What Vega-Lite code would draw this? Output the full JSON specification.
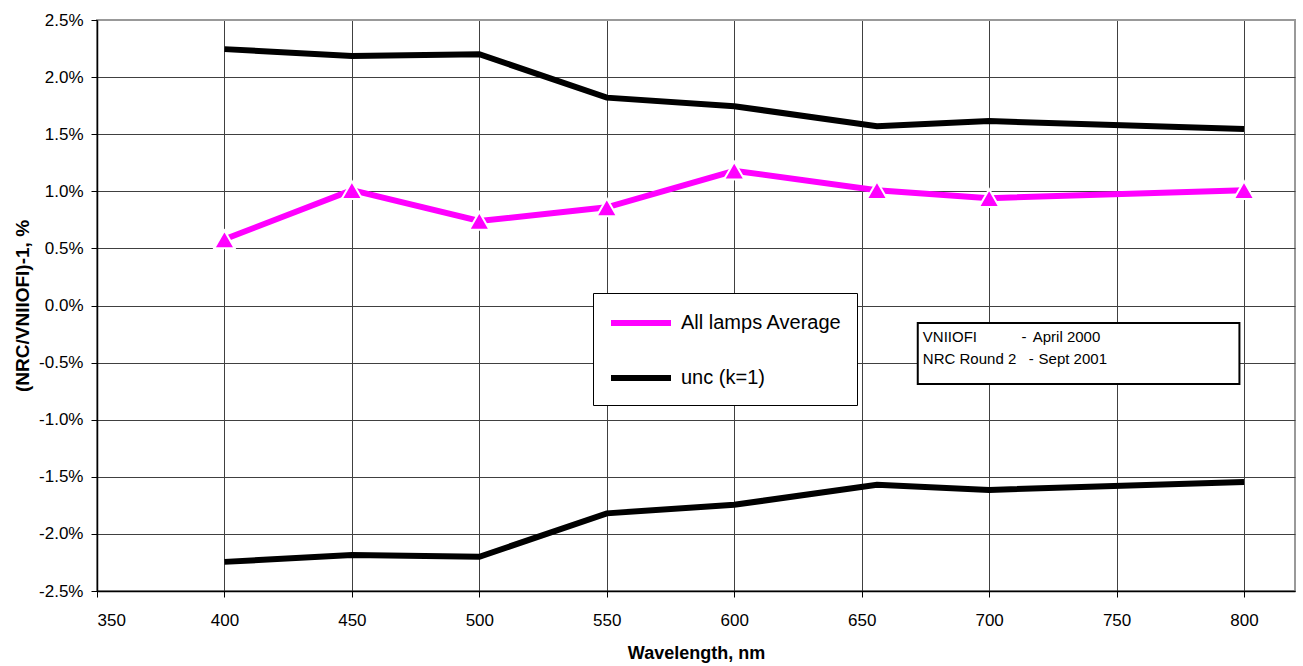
{
  "$schema": "https://vega.github.io/schema/vega-lite/v6.json",
  "width": 1198,
  "height": 571,
  "autosize": {"type": "none"},
  "padding": {"left": 97, "top": 20, "right": 8, "bottom": 75},
  "background": "white",
  "config": {
    "font": "Liberation Sans",
    "view": {"stroke": "#999999", "strokeWidth": 2},
    "axis": {
      "labelFont": "Liberation Sans",
      "titleFont": "Liberation Sans",
      "labelColor": "#000",
      "titleColor": "#000",
      "domainColor": "#000",
      "domainWidth": 1.5,
      "tickColor": "#000",
      "tickSize": 6,
      "gridColor": "#404040",
      "gridWidth": 1,
      "gridOpacity": 1
    }
  },
  "datasets": {
    "series": [
      {"wavelength": 400, "value": 0.58, "series": "All lamps Average", "branch": "avg"},
      {"wavelength": 450, "value": 1.01, "series": "All lamps Average", "branch": "avg"},
      {"wavelength": 500, "value": 0.74, "series": "All lamps Average", "branch": "avg"},
      {"wavelength": 550, "value": 0.86, "series": "All lamps Average", "branch": "avg"},
      {"wavelength": 600, "value": 1.18, "series": "All lamps Average", "branch": "avg"},
      {"wavelength": 656, "value": 1.01, "series": "All lamps Average", "branch": "avg"},
      {"wavelength": 700, "value": 0.94, "series": "All lamps Average", "branch": "avg"},
      {"wavelength": 800, "value": 1.01, "series": "All lamps Average", "branch": "avg"},
      {"wavelength": 400, "value": 2.245, "series": "unc (k=1)", "branch": "upper"},
      {"wavelength": 450, "value": 2.185, "series": "unc (k=1)", "branch": "upper"},
      {"wavelength": 500, "value": 2.2, "series": "unc (k=1)", "branch": "upper"},
      {"wavelength": 550, "value": 1.82, "series": "unc (k=1)", "branch": "upper"},
      {"wavelength": 600, "value": 1.745, "series": "unc (k=1)", "branch": "upper"},
      {"wavelength": 656, "value": 1.57, "series": "unc (k=1)", "branch": "upper"},
      {"wavelength": 700, "value": 1.615, "series": "unc (k=1)", "branch": "upper"},
      {"wavelength": 800, "value": 1.545, "series": "unc (k=1)", "branch": "upper"},
      {"wavelength": 400, "value": -2.245, "series": "unc (k=1)", "branch": "lower"},
      {"wavelength": 450, "value": -2.185, "series": "unc (k=1)", "branch": "lower"},
      {"wavelength": 500, "value": -2.2, "series": "unc (k=1)", "branch": "lower"},
      {"wavelength": 550, "value": -1.82, "series": "unc (k=1)", "branch": "lower"},
      {"wavelength": 600, "value": -1.745, "series": "unc (k=1)", "branch": "lower"},
      {"wavelength": 656, "value": -1.57, "series": "unc (k=1)", "branch": "lower"},
      {"wavelength": 700, "value": -1.615, "series": "unc (k=1)", "branch": "lower"},
      {"wavelength": 800, "value": -1.545, "series": "unc (k=1)", "branch": "lower"}
    ],
    "box": [
      {"x1": 672, "x2": 798.2, "y1": -0.153, "y2": -0.687}
    ],
    "notes": [
      {"tx": 674, "ty": -0.32, "label": "VNIIOFI"},
      {"tx": 712.7, "ty": -0.32, "label": "-"},
      {"tx": 717.1, "ty": -0.32, "label": "April 2000"},
      {"tx": 674, "ty": -0.512, "label": "NRC Round 2"},
      {"tx": 715.5, "ty": -0.512, "label": "-"},
      {"tx": 719.4, "ty": -0.512, "label": "Sept 2001"}
    ]
  },
  "encoding": {
    "x": {
      "field": "wavelength",
      "type": "quantitative",
      "scale": {"domain": [350, 820], "nice": false, "zero": false},
      "axis": {
        "title": "Wavelength, nm",
        "values": [350, 400, 450, 500, 550, 600, 650, 700, 750, 800],
        "labelFontSize": 17,
        "labelPadding": 15,
        "titleFontSize": 18,
        "titleFontWeight": "bold",
        "titlePadding": 16
      }
    },
    "y": {
      "field": "value",
      "type": "quantitative",
      "scale": {"domain": [-2.5, 2.5], "nice": false, "zero": false},
      "axis": {
        "title": "(NRC/VNIIOFI)-1,  %",
        "values": [-2.5, -2, -1.5, -1, -0.5, 0, 0.5, 1, 1.5, 2, 2.5],
        "labelExpr": "replace(format(datum.value, '.1f'), '\u2212', '-') + '%'",
        "labelFontSize": 17,
        "labelPadding": 8,
        "titleFontSize": 19,
        "titleFontWeight": "bold",
        "titlePadding": 6,
        "gridColor": {"condition": {"test": "datum.value == 2.5", "value": "#999999"}, "value": "#404040"}
      }
    }
  },
  "layer": [
    {
      "data": {"name": "series"},
      "mark": {"type": "line", "strokeWidth": 6, "strokeJoin": "miter", "strokeCap": "butt"},
      "encoding": {
        "color": {
          "field": "series",
          "type": "nominal",
          "scale": {"domain": ["All lamps Average", "unc (k=1)"], "range": ["#FF00FF", "#000000"]},
          "legend": {
            "title": null,
            "orient": "none",
            "legendX": 496,
            "legendY": 273,
            "direction": "vertical",
            "fillColor": "white",
            "strokeColor": "#000",
            "padding": 15,
            "labelFont": "Liberation Sans",
            "labelFontSize": 20,
            "labelColor": "#000",
            "labelLimit": 400,
            "labelOffset": 43,
            "symbolType": "M-1,0H4",
            "symbolSize": 576,
            "symbolStrokeWidth": 6,
            "symbolFillColor": "transparent",
            "rowPadding": 28
          }
        },
        "detail": {"field": "branch"}
      }
    },
    {
      "data": {"name": "series"},
      "transform": [{"filter": "datum.branch == 'avg'"}],
      "mark": {"type": "point", "shape": "triangle-up", "filled": true, "size": 420, "color": "#FF00FF", "stroke": "white", "strokeWidth": 2, "opacity": 1}
    },
    {
      "data": {"name": "box"},
      "mark": {"type": "rect", "fill": "white", "stroke": "#000", "strokeWidth": 2},
      "encoding": {
        "x": {"field": "x1", "type": "quantitative"},
        "x2": {"field": "x2"},
        "y": {"field": "y1", "type": "quantitative"},
        "y2": {"field": "y2"}
      }
    },
    {
      "data": {"name": "notes"},
      "mark": {"type": "text", "align": "left", "baseline": "alphabetic", "font": "Liberation Sans", "fontSize": 15, "color": "#000"},
      "encoding": {
        "x": {"field": "tx", "type": "quantitative"},
        "y": {"field": "ty", "type": "quantitative"},
        "text": {"field": "label"}
      }
    }
  ]
}
